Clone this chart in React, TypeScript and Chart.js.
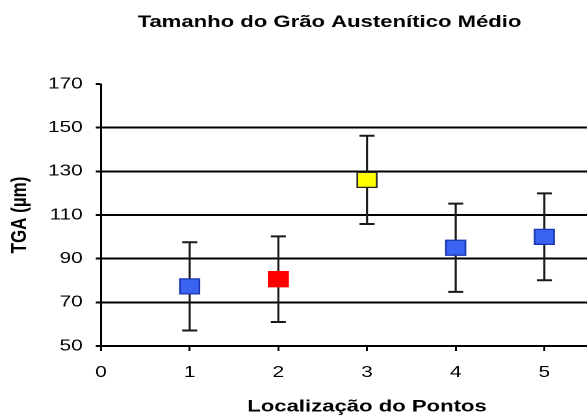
import React, { useEffect, useRef } from "react";
import { Chart, registerables } from "chart.js";

Chart.register(...registerables);

// Dados: tamanho médio de grão austenítico por ponto de medição
const pontos = [1, 2, 3, 4, 5];
const tgaMedio = [77.3, 80.6, 126.1, 95.0, 100.0];
const desvioPadrao = [20.2, 19.6, 20.2, 20.2, 19.9];
const corPreenchimento = ["#3a63f2", "#ff0000", "#ffff00", "#3a63f2", "#3a63f2"];
const corBorda = ["#1b36b0", "#ff0000", "#262626", "#1b36b0", "#1b36b0"];
const ticksY = [50, 70, 90, 110, 130, 150, 170];
const ticksX = [0, 1, 2, 3, 4, 5, 6];

const titulo = "Tamanho do Grão Austenítico Médio";
const tituloEixoX = "Localização do Pontos";
const tituloEixoY = "TGA (µm)";

// Geometria do desenho (o canvas é esticado na horizontal pelo CSS)
const ESTICAMENTO_X = 1.3;
const LARGURA = 507;
const ALTURA = 419;
const FONTE = '"Liberation Sans", Arial, Helvetica, sans-serif';

const barrasDeErro = {
  id: "barrasDeErro",
  beforeDatasetsDraw(chart: any) {
    const { ctx, scales } = chart;
    const x = scales.x;
    const y = scales.y;
    ctx.save();
    ctx.strokeStyle = "#1a1a1a";
    pontos.forEach((p, i) => {
      const px = x.getPixelForValue(p);
      const topo = y.getPixelForValue(tgaMedio[i] + desvioPadrao[i]);
      const base = y.getPixelForValue(tgaMedio[i] - desvioPadrao[i]);
      const meiaLargura = 5.8;
      ctx.lineWidth = 1.6;
      ctx.beginPath();
      ctx.moveTo(px, topo);
      ctx.lineTo(px, base);
      ctx.stroke();
      ctx.lineWidth = 2;
      ctx.beginPath();
      ctx.moveTo(px - meiaLargura, topo);
      ctx.lineTo(px + meiaLargura, topo);
      ctx.moveTo(px - meiaLargura, base);
      ctx.lineTo(px + meiaLargura, base);
      ctx.stroke();
    });
    ctx.restore();
  },
};

const tituloGrafico = {
  id: "tituloGrafico",
  afterDraw(chart: any) {
    const { ctx } = chart;
    ctx.save();
    ctx.fillStyle = "#000";
    ctx.font = `bold 17px ${FONTE}`;
    ctx.textAlign = "center";
    ctx.textBaseline = "alphabetic";
    ctx.fillText(titulo, 253.5, 27);
    ctx.restore();
  },
};

export default function App() {
  const canvasRef = useRef<HTMLCanvasElement | null>(null);

  useEffect(() => {
    if (!canvasRef.current) return;
    const fonteTicks = { family: FONTE, size: 16 };
    const fonteTitulos = { family: FONTE, size: 17, weight: "bold" as const };

    const chart = new Chart(canvasRef.current, {
      type: "scatter",
      data: {
        datasets: [
          {
            label: "TGA",
            data: pontos.map((p, i) => ({ x: p, y: tgaMedio[i] })),
            pointStyle: "rect",
            pointRadius: 10.6,
            pointHoverRadius: 10.6,
            backgroundColor: corPreenchimento,
            borderColor: corBorda,
            borderWidth: 1.3,
            showLine: false,
          },
        ],
      },
      options: {
        animation: false,
        responsive: false,
        devicePixelRatio: 2,
        events: [],
        layout: { padding: { top: 84, right: 20, bottom: 0, left: 0 } },
        plugins: {
          legend: { display: false },
          tooltip: { enabled: false },
          title: { display: false },
        },
        scales: {
          x: {
            type: "linear",
            min: 0,
            max: 6,
            afterBuildTicks: (s: any) => {
              s.ticks = ticksX.map((v) => ({ value: v }));
            },
            afterFit: (s: any) => {
              s.height = ALTURA - 346;
            },
            ticks: { font: fonteTicks, color: "#000", padding: 12, maxRotation: 0 },
            grid: {
              drawOnChartArea: false,
              drawTicks: true,
              tickLength: 5,
              color: "#000",
              lineWidth: 1.5,
            },
            border: { display: true, color: "#000", width: 2 },
            title: {
              display: true,
              text: tituloEixoX,
              font: fonteTitulos,
              color: "#000",
              padding: { top: 0, bottom: 2 },
            },
          },
          y: {
            type: "linear",
            min: 50,
            max: 170,
            afterBuildTicks: (s: any) => {
              s.ticks = ticksY.map((v) => ({ value: v }));
            },
            afterFit: (s: any) => {
              s.width = 77.7;
            },
            ticks: { font: fonteTicks, color: "#000", padding: 10 },
            grid: {
              color: (c: any) =>
                c.tick && c.tick.value === 170 ? "rgba(0,0,0,0)" : "#000",
              tickColor: "#000",
              lineWidth: 2,
              tickLength: 4,
            },
            border: { display: true, color: "#000", width: 1.5 },
            title: {
              display: true,
              text: tituloEixoY,
              font: fonteTitulos,
              color: "#000",
              padding: { top: 5, bottom: 0 },
            },
          },
        },
      },
      plugins: [barrasDeErro, tituloGrafico],
    });

    return () => chart.destroy();
  }, []);

  return (
    <div style={{ position: "fixed", left: 0, top: 0, width: 587, height: ALTURA, overflow: "hidden", background: "#fff" }}>
      <canvas
        ref={canvasRef}
        width={LARGURA}
        height={ALTURA}
        style={{ display: "block", width: `${LARGURA * ESTICAMENTO_X}px`, height: `${ALTURA}px` }}
      />
    </div>
  );
}
